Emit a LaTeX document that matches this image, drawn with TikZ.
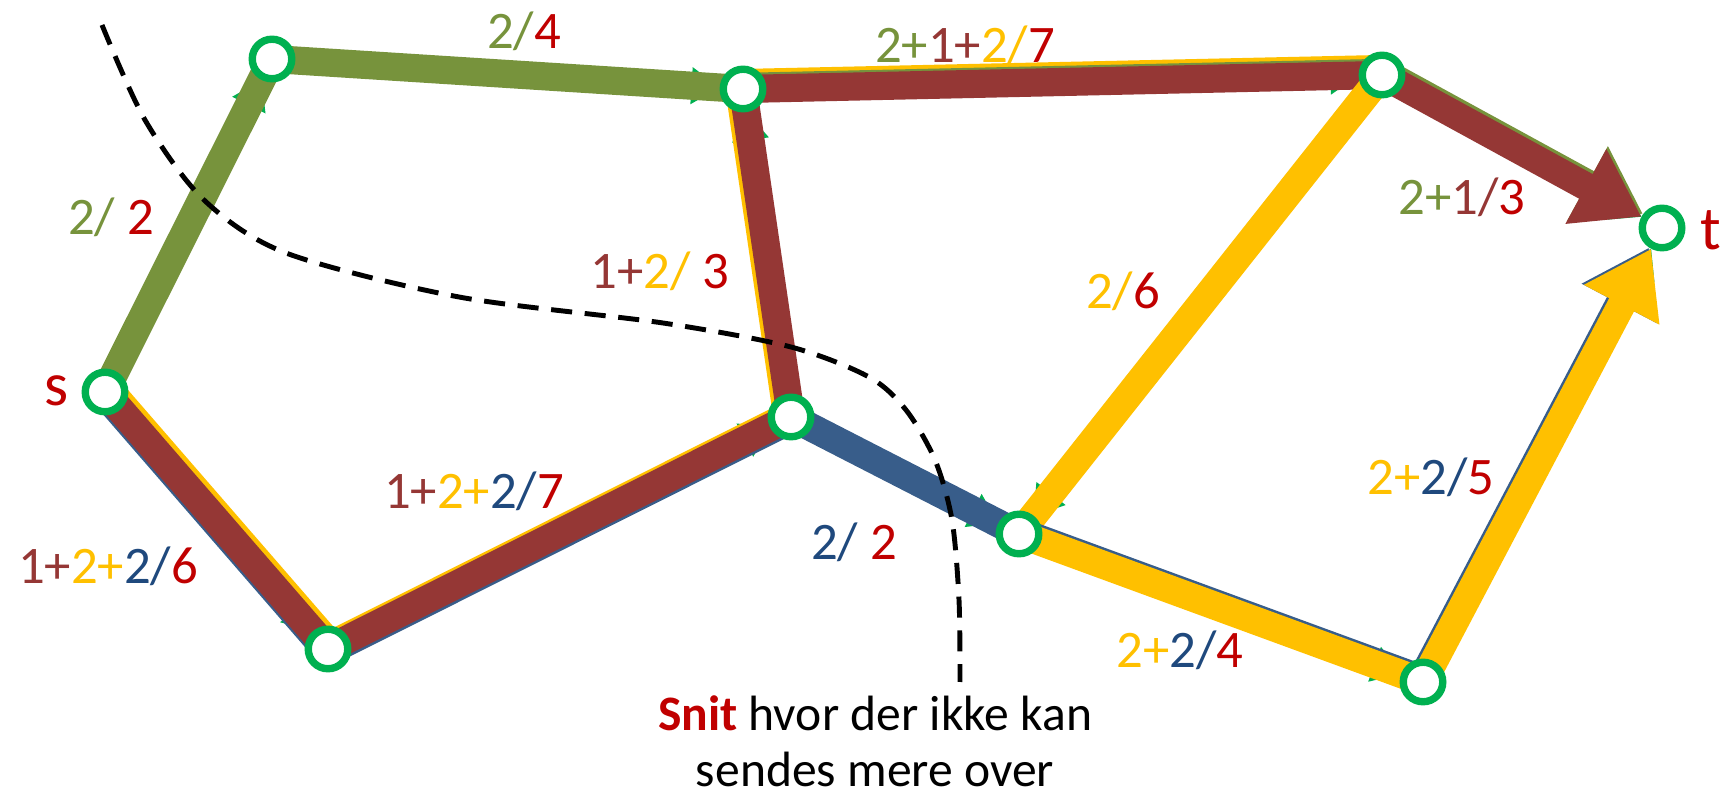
\documentclass[tikz,border=0pt]{standalone}
\usepackage{fontspec}
\setmainfont{Carlito}
\usetikzlibrary{arrows.meta,backgrounds}
\definecolor{ringgreen}{RGB}{0,176,80}
\definecolor{flowgreen}{RGB}{119,147,60}
\definecolor{flowbrown}{RGB}{149,55,53}
\definecolor{flowyellow}{RGB}{255,192,0}
\definecolor{flowblue}{RGB}{56,93,138}
\definecolor{txtblue}{RGB}{31,73,125}
\definecolor{txtred}{RGB}{192,0,0}
\newcommand\Gr[1]{\textcolor{flowgreen}{#1}}
\newcommand\Br[1]{\textcolor{flowbrown}{#1}}
\newcommand\Ye[1]{\textcolor{flowyellow}{#1}}
\newcommand\Bl[1]{\textcolor{txtblue}{#1}}
\newcommand\Rd[1]{\textcolor{txtred}{#1}}

\begin{document}
\begin{tikzpicture}[x=0.01cm,y=-0.01cm,vtx/.style={circle,draw=ringgreen,fill=white,line width=2.1pt,minimum size=0.395cm,inner sep=0pt},flow/.style={draw=#1,line width=8pt},tip/.style={draw=ringgreen,line width=0.4pt,-{Triangle[width=10.5pt,length=8pt]}},big/.style={-{Triangle[width=23pt,length=18pt]}},lbl/.style={font=\fontsize{15}{18}\selectfont,inner sep=0pt},cut/.style={black,line width=1.4pt,dash pattern=on 6pt off 3.6pt}]
\useasboundingbox (0,0) rectangle (1722,792);

\node[vtx] (s) at (105,392) {};
\node[vtx] (a) at (272,59) {};
\node[vtx] (b) at (743,89) {};
\node[vtx] (c) at (1382,75) {};
\node[vtx] (t) at (1662,228) {};
\node[vtx] (d) at (328,649) {};
\node[vtx] (e) at (791,417) {};
\node[vtx] (f) at (1019,534) {};
\node[vtx] (g) at (1423,682) {};

\begin{scope}[on background layer]
\foreach \u/\v in {s/a,a/b,b/c,c/t,e/b,s/d,d/e,e/f,c/f,f/g,g/t}
  \draw[tip] (\u) -- (\v);
\draw[flow=flowgreen] (s.center) -- (a.center);
\draw[flow=flowgreen] (a.center) -- (b.center);
\draw[flow=flowyellow,transform canvas={shift={(0pt,1.7pt)}}] (b.center) -- (c.center);
\draw[flow=flowgreen,transform canvas={shift={(0pt,0.6pt)}}] (b.center) -- (c.center);
\draw[flow=flowbrown] (b.center) -- (c.center);
\draw[flow=flowgreen,big,transform canvas={shift={(0.43pt,0.79pt)}}] (c.center) -- (t);
\draw[flow=flowbrown,big] (c.center) -- (t);
\draw[flow=flowyellow,transform canvas={shift={(-1pt,-0.15pt)}}] (e.center) -- (b.center);
\draw[flow=flowbrown] (e.center) -- (b.center);
\draw[flow=flowblue,transform canvas={shift={(-0.45pt,-0.39pt)}}] (s.center) -- (d.center);
\draw[flow=flowyellow,transform canvas={shift={(1pt,0.87pt)}}] (s.center) -- (d.center);
\draw[flow=flowbrown] (s.center) -- (d.center);
\draw[flow=flowyellow,transform canvas={shift={(-0.32pt,0.63pt)}}] (d.center) -- (e.center);
\draw[flow=flowblue,transform canvas={shift={(0.32pt,-0.63pt)}}] (d.center) -- (e.center);
\draw[flow=flowbrown] (d.center) -- (e.center);
\draw[flow=flowblue] (e.center) -- (f.center);
\draw[flow=flowyellow] (f.center) -- (c.center);
\draw[flow=flowblue,transform canvas={shift={(0.24pt,0.66pt)}}] (f.center) -- (g.center);
\draw[flow=flowyellow] (f.center) -- (g.center);
\draw[flow=flowblue,big,transform canvas={shift={(-0.62pt,0.33pt)}}] (g.center) -- (t);
\draw[flow=flowyellow,big] (g.center) -- (t);
\end{scope}

\draw[cut] plot[smooth] coordinates {(102,25) (145,120) (204,200) (286,253) (459,297) (663,323) (791,347) (869,377) (906,410) (935,460) (952,520) (959,600) (960,682)};

\node[lbl] (l1) at (111,217) {\Gr{2/} \Rd{2}};
\node[lbl] (l2) at (524,31) {\Gr{2/}\Rd{4}};
\node[lbl] (l3) at (965,45) {\Gr{2+}\Br{1+}\Ye{2/}\Rd{7}};
\node[lbl] (l4) at (1462,197) {\Gr{2+}\Br{1/}\Rd{3}};
\node[lbl] (l5) at (660,271) {\Br{1+}\Ye{2/} \Rd{3}};
\node[lbl] (l6) at (1123,291) {\Ye{2/}\Rd{6}};
\node[lbl] (l7) at (108,566) {\Br{1+}\Ye{2+}\Bl{2/}\Rd{6}};
\node[lbl] (l8) at (474,491) {\Br{1+}\Ye{2+}\Bl{2/}\Rd{7}};
\node[lbl] (l9) at (854,542) {\Bl{2/} \Rd{2}};
\node[lbl] (l10) at (1180,650) {\Ye{2+}\Bl{2/}\Rd{4}};
\node[lbl] (l11) at (1431,477) {\Ye{2+}\Bl{2/}\Rd{5}};
\node[font=\fontsize{17.5}{20}\selectfont,text=txtred,inner sep=0pt] (sname) at (57,391) {s};
\node[font=\fontsize{17.5}{20}\selectfont,text=txtred,inner sep=0pt] (tname) at (1711,230) {t};
\node[lbl,align=center,font=\fontsize{14.1}{16}\selectfont] (note) at (875,741) {\textcolor{txtred}{\textbf{Snit}} hvor der ikke kan\\sendes mere over};
\end{tikzpicture}
\end{document}
